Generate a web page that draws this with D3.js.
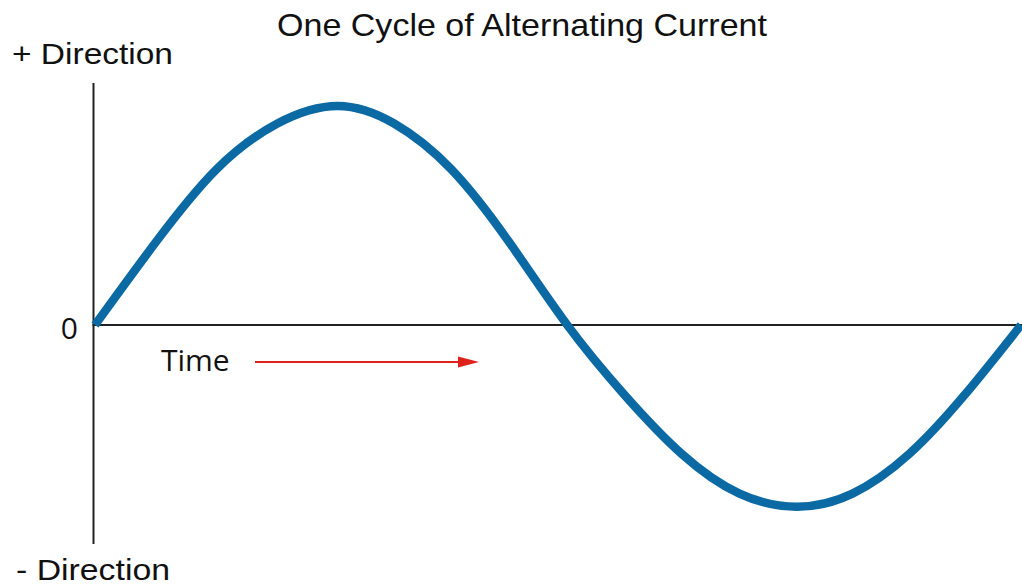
<!DOCTYPE html>
<html>
<head>
<meta charset="utf-8">
<script src="https://cdn.jsdelivr.net/npm/d3@7"></script>
<style>
  html, body { margin: 0; padding: 0; background: #fff; }
  svg { display: block; }
</style>
</head>
<body>
<svg id="chart" width="1022" height="587"></svg>
<script>
// Time across one full cycle (fraction of the period)
const timeValues = [0, 0.066, 0.131, 0.197, 0.262,
  0.323, 0.385, 0.447, 0.510,
  0.572, 0.634, 0.696, 0.758,
  0.818, 0.879, 0.939, 1.0];
// Current (relative to the positive peak)
const currentValues = [0, 0.38, 0.71, 0.92, 1.0,
  0.92, 0.71, 0.38, 0,
  -0.32, -0.59, -0.77, -0.83,
  -0.77, -0.59, -0.32, 0];
// Extent of the vertical axis line
const axisRange = [-1.0, 1.105];
const axisLabels = { top: "+ Direction", bottom: "- Direction", zero: "0", time: "Time" };
const titleText = "One Cycle of Alternating Current";

const svg = d3.select("#chart");

const x = d3.scaleLinear().domain([0, 1]).range([95, 1021]);
const y = d3.scaleLinear().domain([-1, 1]).range([544, 106]);

const data = timeValues.map((t, i) => ({ t, v: currentValues[i] }));

// Title
svg.append("text")
  .attr("x", 277).attr("y", 36)
  .attr("font-family", "'Liberation Sans', Arial, sans-serif")
  .attr("font-size", 32)
  .attr("fill", "#111")
  .attr("textLength", 490)
  .attr("lengthAdjust", "spacingAndGlyphs")
  .text(titleText);

// Vertical axis
svg.append("line")
  .attr("x1", x(0) - 1.5).attr("x2", x(0) - 1.5)
  .attr("y1", y(axisRange[1])).attr("y2", y(axisRange[0]))
  .attr("stroke", "#222").attr("stroke-width", 2);

// Horizontal (zero) axis
svg.append("line")
  .attr("x1", x(0) - 2.5).attr("x2", 1022)
  .attr("y1", y(0)).attr("y2", y(0))
  .attr("stroke", "#222").attr("stroke-width", 2);

// Direction labels
svg.append("text")
  .attr("x", 12).attr("y", 64)
  .attr("font-family", "'Liberation Sans', Arial, sans-serif")
  .attr("font-size", 30).attr("fill", "#111")
  .attr("textLength", 161).attr("lengthAdjust", "spacingAndGlyphs")
  .text(axisLabels.top);

svg.append("text")
  .attr("x", 16).attr("y", 580)
  .attr("font-family", "'Liberation Sans', Arial, sans-serif")
  .attr("font-size", 29).attr("fill", "#111")
  .attr("textLength", 154).attr("lengthAdjust", "spacingAndGlyphs")
  .text(axisLabels.bottom);

svg.append("text")
  .attr("x", 78).attr("y", y(0) + 14)
  .attr("text-anchor", "end")
  .attr("font-family", "'Open Sans', sans-serif")
  .attr("font-size", 30).attr("fill", "#111")
  .text(axisLabels.zero);

// Time label with arrow
svg.append("text")
  .attr("x", 161).attr("y", 371)
  .attr("font-family", "'Open Sans', sans-serif")
  .attr("font-size", 30).attr("fill", "#111")
  .text(axisLabels.time);

svg.append("line")
  .attr("x1", 255).attr("x2", 462)
  .attr("y1", 362).attr("y2", 362)
  .attr("stroke", "#e0201b").attr("stroke-width", 2);
svg.append("path")
  .attr("d", "M458,356.5 L479,362 L458,367.5 Z")
  .attr("fill", "#e0201b");

// The alternating-current waveform
const line = d3.line()
  .x(d => x(d.t))
  .y(d => y(d.v))
  .curve(d3.curveNatural);

svg.append("path")
  .datum(data)
  .attr("d", line)
  .attr("fill", "none")
  .attr("stroke", "#0b69a3")
  .attr("stroke-width", 8.5)
  .attr("stroke-linecap", "butt")
  .attr("stroke-linejoin", "round");
</script>
</body>
</html>
